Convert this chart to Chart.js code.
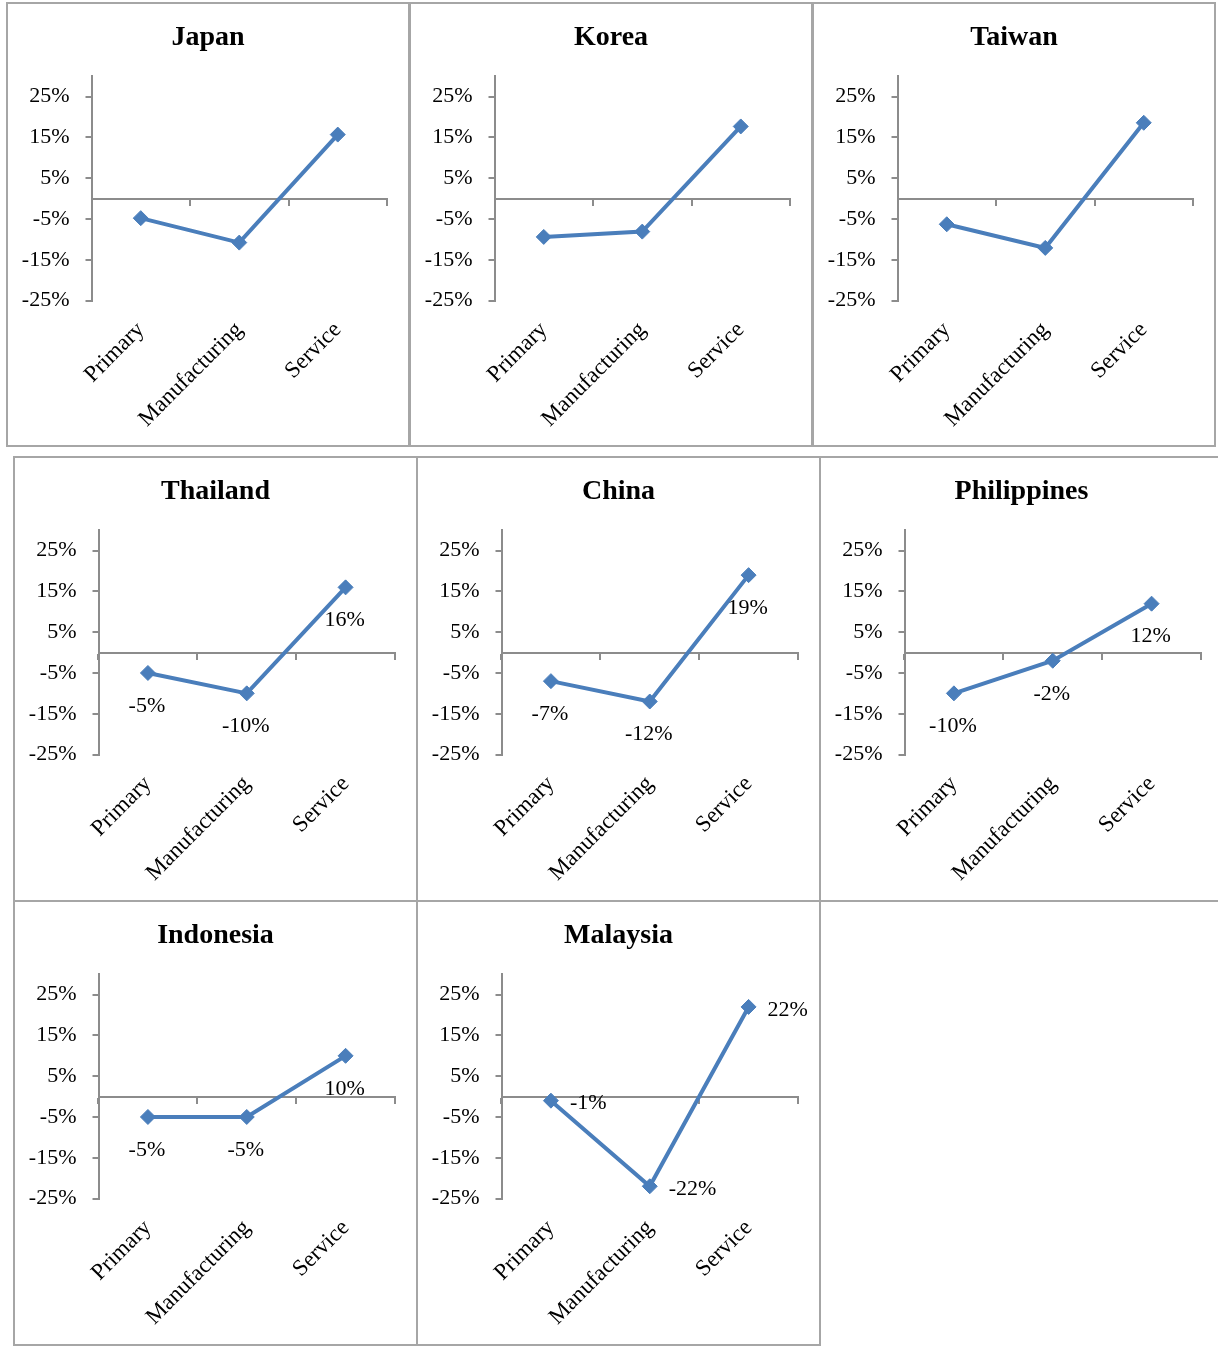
<!DOCTYPE html>
<html>
<head>
<meta charset="utf-8">
<script src="https://cdn.jsdelivr.net/npm/chart.js@4.4.1/dist/chart.umd.min.js"></script>
<style>
  html, body { margin: 0; padding: 0; background: #ffffff; }
  body { width: 1218px; height: 1351px; position: relative; overflow: hidden; }
  canvas { position: absolute; }
  .frame { position: absolute; box-sizing: border-box; border: 2px solid #a6a6a6; pointer-events: none; }
</style>
</head>
<body>
<script>
// Sectors shared by every panel
const categories = ['Primary', 'Manufacturing', 'Service'];

// Change by sector, in percent
const japan       = [-4.8, -10.8, 15.7];
const korea       = [-9.4, -8.1, 17.7];
const taiwan      = [-6.3, -12.1, 18.6];
const thailand    = [-5, -10, 16];
const china       = [-7, -12, 19];
const philippines = [-10, -2, 12];
const indonesia   = [-5, -5, 10];
const malaysia    = [-1, -22, 22];

// Value axis
const yTickValues = [25, 15, 5, -5, -15, -25];
const yMin = -25;
const yMax = 30;

// Panel frames: [left, top, width, height]
const panels = [
  { title: 'Japan',       values: japan,       box: [6, 2, 404, 445],   labels: null },
  { title: 'Korea',       values: korea,       box: [409, 2, 404, 445], labels: null },
  { title: 'Taiwan',      values: taiwan,      box: [812, 2, 404, 445], labels: null },
  { title: 'Thailand',    values: thailand,    box: [13, 456, 405, 446],  labels: 'below' },
  { title: 'China',       values: china,       box: [416, 456, 405, 446], labels: 'below' },
  { title: 'Philippines', values: philippines, box: [819, 456, 405, 446], labels: 'below' },
  { title: 'Indonesia',   values: indonesia,   box: [13, 900, 405, 446],  labels: 'below' },
  { title: 'Malaysia',    values: malaysia,    box: [416, 900, 405, 446], labels: 'right' }
];

const SERIF = "'Liberation Serif', 'Times New Roman', serif";
const BLUE = '#4a7ebb';
const AXIS = '#8c8c8c';
const PLOT_BOTTOM = 298.5;   // y of the -25% line inside a panel
const AXIS_WIDTH = 85.5;     // room for the value axis labels
const RIGHT_GAP = 23;

// Writes each point's value next to its marker
const valueLabels = {
  id: 'valueLabels',
  afterDatasetsDraw(chart, args, opts) {
    if (!opts.position) return;
    const meta = chart.getDatasetMeta(0);
    const values = chart.data.datasets[0].data;
    const ctx = chart.ctx;
    ctx.save();
    ctx.font = '22px ' + SERIF;
    ctx.fillStyle = '#000000';
    ctx.textBaseline = 'middle';
    meta.data.forEach((pt, i) => {
      const txt = Math.round(values[i]) + '%';
      if (opts.position === 'below') {
        ctx.textAlign = 'center';
        ctx.fillText(txt, pt.x - 1, pt.y + 33);
      } else {
        ctx.textAlign = 'left';
        ctx.fillText(txt, pt.x + 19, pt.y + 3);
      }
    });
    ctx.restore();
  }
};

panels.forEach((p) => {
  const [left, top, w, h] = p.box;
  const canvas = document.createElement('canvas');
  canvas.width = w;
  canvas.height = h;
  canvas.style.left = left + 'px';
  canvas.style.top = top + 'px';
  canvas.style.width = w + 'px';
  canvas.style.height = h + 'px';
  document.body.appendChild(canvas);

  const frame = document.createElement('div');
  frame.className = 'frame';
  frame.style.left = left + 'px';
  frame.style.top = top + 'px';
  frame.style.width = w + 'px';
  frame.style.height = h + 'px';
  document.body.appendChild(frame);

  new Chart(canvas, {
    type: 'line',
    data: {
      labels: categories,
      datasets: [{
        data: p.values,
        borderColor: BLUE,
        backgroundColor: BLUE,
        borderWidth: 4,
        tension: 0,
        pointStyle: 'rectRot',
        pointRadius: 7.5,
        pointBorderWidth: 1,
        pointBackgroundColor: BLUE,
        pointBorderColor: BLUE,
        xAxisID: 'x',
        yAxisID: 'y'
      }]
    },
    options: {
      responsive: false,
      animation: false,
      devicePixelRatio: 1,
      layout: { padding: 0 },
      plugins: {
        legend: { display: false },
        tooltip: { enabled: false },
        title: {
          display: true,
          text: p.title,
          color: '#000000',
          font: { family: SERIF, size: 28, weight: 'bold', lineHeight: 1.2 },
          padding: { top: 19, bottom: 21.7 }
        },
        valueLabels: { position: p.labels }
      },
      scales: {
        x: {
          type: 'category',
          axis: 'x',
          position: 'bottom',
          offset: true,
          grid: { display: false, drawTicks: false },
          border: { display: false },
          ticks: {
            autoSkip: false,
            minRotation: 45,
            maxRotation: 45,
            padding: 16,
            color: '#000000',
            font: { family: SERIF, size: 23 }
          },
          afterFit(scale) { scale.height = h - PLOT_BOTTOM; }
        },
        zero: {
          type: 'category',
          axis: 'x',
          position: { y: 0 },
          offset: true,
          grid: { offset: true, drawOnChartArea: false, drawTicks: true, tickLength: 6, color: AXIS, lineWidth: 2 },
          border: { display: true, color: AXIS, width: 2 },
          ticks: { display: false }
        },
        y: {
          type: 'linear',
          axis: 'y',
          position: 'left',
          min: yMin,
          max: yMax,
          afterBuildTicks(scale) { scale.ticks = yTickValues.map(v => ({ value: v })); },
          grid: { drawOnChartArea: false, drawTicks: true, tickLength: 6, color: AXIS, lineWidth: 2 },
          border: { display: true, color: AXIS, width: 2 },
          ticks: {
            padding: 16,
            color: '#000000',
            font: { family: SERIF, size: 22 },
            callback: (v) => v + '%'
          },
          afterFit(scale) { scale.width = AXIS_WIDTH; }
        },
        gap: {
          type: 'linear',
          axis: 'y',
          position: 'right',
          display: true,
          grid: { display: false },
          border: { display: false },
          ticks: { display: false },
          afterFit(scale) { scale.width = RIGHT_GAP; }
        }
      }
    },
    plugins: [valueLabels]
  });
});
</script>
</body>
</html>
